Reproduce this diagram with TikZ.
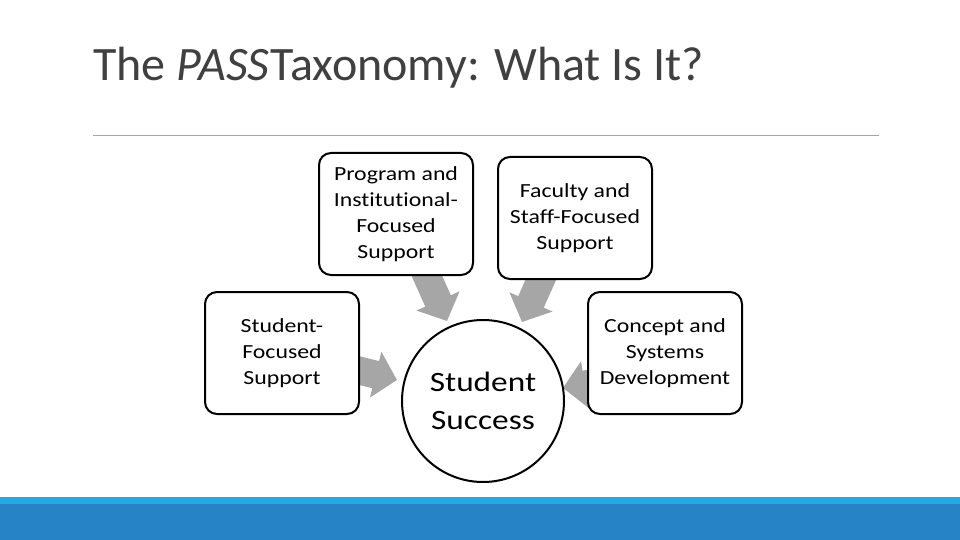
\documentclass[tikz,border=0pt]{standalone}
\usepackage{fontspec}
\setmainfont{Carlito}
\newfontfamily\boxfont[FakeStretch=1.19, Ligatures=NoCommon]{Carlito}
\usetikzlibrary{arrows.meta}
\definecolor{titlegray}{HTML}{404040}
\definecolor{arrowgray}{HTML}{A6A6A6}
\definecolor{rulegray}{HTML}{A5A5A5}
\definecolor{bandlight}{HTML}{21ACE0}
\definecolor{banddark}{HTML}{2683C6}
\begin{document}
\begin{tikzpicture}[x=1pt,y=-1pt,
  box/.style={draw=black, line width=2pt, rounded corners=12pt, fill=white,
    align=center, font=\boxfont\fontsize{20}{26}\selectfont, inner sep=0pt,
    minimum width=154pt, minimum height=122pt, anchor=north west},
  hub/.style={draw=black, line width=2pt, circle, fill=white, align=center,
    font=\boxfont\fontsize{28}{38}\selectfont, inner sep=0pt, minimum size=162pt},
  blockarrow/.style={draw=arrowgray, line width=28pt,
    -{Triangle[length=22pt,width=46pt]}, color=arrowgray}
]
\useasboundingbox (0,0) rectangle (960,540);
\fill[white] (0,0) rectangle (960,540);
% title
\node[anchor=base west, inner sep=0pt, text=titlegray, font=\fontsize{48}{52}\selectfont] (title) at (93,81)
  {The \textit{PASS}\hspace{1pt}Taxonomy: What Is It?};
\coordinate (r1) at (93,136);
\coordinate (r2) at (879,136);
\draw[rulegray, line width=1pt] (r1) -- (r2);
% bottom bands
\fill[bandlight] (0,497) rectangle (960,504);
\fill[banddark] (0,504) rectangle (960,540);
% arrow coordinates
\coordinate (a1s) at (422,265);
\coordinate (a1t) at (447,321);
\coordinate (a2s) at (547,266);
\coordinate (a2t) at (522,322);
\coordinate (a3s) at (337,365);
\coordinate (a3t) at (397,380);
\coordinate (a4s) at (619,379);
\coordinate (a4t) at (563,388);
\draw[blockarrow] (a1s) -- (a1t);
\draw[blockarrow] (a2s) -- (a2t);
\draw[blockarrow] (a3s) -- (a3t);
\draw[blockarrow] (a4s) -- (a4t);
% nodes
\node[box] (prog) at (318,152) {Program and\\Institutional-\\Focused\\Support};
\node[box] (fac) at (497,156) {Faculty and\\Staff-Focused\\Support};
\node[box] (stu) at (204,291) {Student-\\Focused\\Support};
\node[box] (con) at (587,291) {Concept and\\Systems\\Development};
\node[hub] (succ) at (483,401) {Student\\Success};
\end{tikzpicture}
\end{document}
